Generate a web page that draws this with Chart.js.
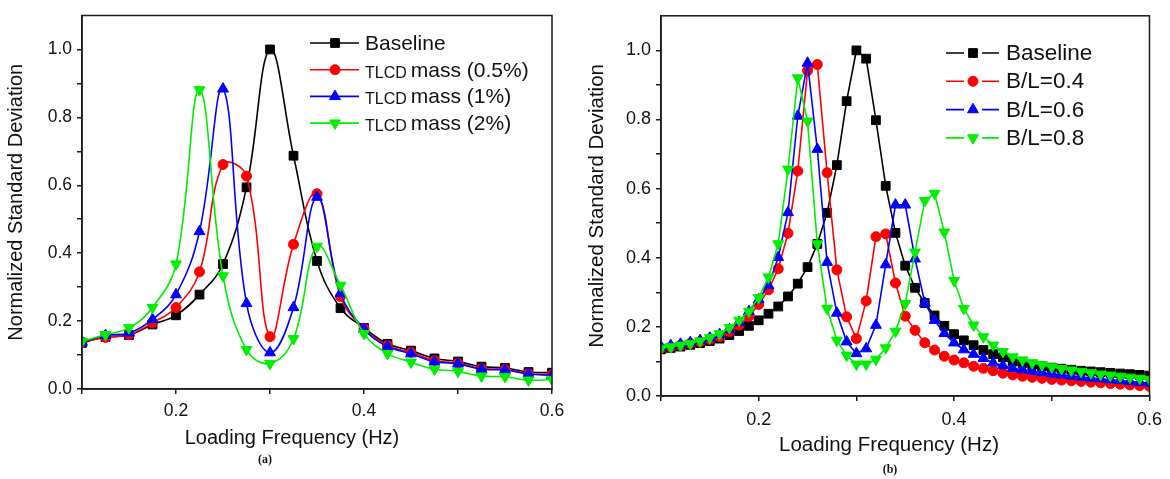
<!DOCTYPE html>
<html>
<head>
<meta charset="utf-8">
<script src="https://cdn.jsdelivr.net/npm/chart.js@4"></script>
<style>
  html, body { margin: 0; padding: 0; background: #fff; }
  body { width: 1170px; height: 479px; position: relative; overflow: hidden; }
  .panel { position: absolute; top: 0; width: 585px; height: 479px; }
  #panel-a { left: 0; }
  #panel-b { left: 585px; }
</style>
</head>
<body>
<div class="panel" id="panel-a"><canvas id="chart-a" width="585" height="479"></canvas></div>
<div class="panel" id="panel-b"><canvas id="chart-b" width="585" height="479"></canvas></div>
<script>
// ========== Data (a) : TLCD mass
const freqA = [0.1, 0.125, 0.15, 0.175, 0.2, 0.225, 0.25, 0.275, 0.3, 0.325, 0.35,
               0.375, 0.4, 0.425, 0.45, 0.475, 0.5, 0.525, 0.55, 0.575, 0.6];
const baselineA = [0.136, 0.153, 0.159, 0.190, 0.217, 0.278, 0.368, 0.594, 1.000, 0.687, 0.377,
                   0.238, 0.180, 0.133, 0.113, 0.090, 0.081, 0.066, 0.062, 0.050, 0.048];
const mass05A = [0.138, 0.152, 0.160, 0.195, 0.240, 0.345, 0.661, 0.627, 0.154, 0.426, 0.575,
                 0.272, 0.178, 0.128, 0.108, 0.084, 0.076, 0.060, 0.058, 0.045, 0.042];
const mass1A = [0.138, 0.158, 0.165, 0.205, 0.278, 0.464, 0.884, 0.252, 0.107, 0.240, 0.565,
                0.282, 0.176, 0.125, 0.104, 0.080, 0.074, 0.058, 0.056, 0.044, 0.040];
const mass2A = [0.140, 0.160, 0.180, 0.240, 0.368, 0.881, 0.333, 0.116, 0.075, 0.148, 0.420,
                0.305, 0.163, 0.104, 0.079, 0.058, 0.052, 0.038, 0.036, 0.026, 0.028];

// ========== Data (b) : B/L ratio
const freqB = [0.10, 0.11, 0.12, 0.13, 0.14, 0.15, 0.16, 0.17, 0.18, 0.19,
               0.20, 0.21, 0.22, 0.23, 0.24, 0.25, 0.26, 0.27, 0.28, 0.29,
               0.30, 0.31, 0.32, 0.33, 0.34, 0.35, 0.36, 0.37, 0.38, 0.39,
               0.40, 0.41, 0.42, 0.43, 0.44, 0.45, 0.46, 0.47, 0.48, 0.49,
               0.50, 0.51, 0.52, 0.53, 0.54, 0.55, 0.56, 0.57, 0.58, 0.59, 0.60];
const baselineB = [0.135, 0.139, 0.143, 0.148, 0.153, 0.159, 0.166, 0.176, 0.188, 0.203,
                   0.219, 0.238, 0.259, 0.288, 0.325, 0.373, 0.440, 0.530, 0.668, 0.853,
                   1.000, 0.976, 0.798, 0.608, 0.472, 0.377, 0.313, 0.269, 0.233, 0.203,
                   0.179, 0.161, 0.147, 0.133, 0.121, 0.112, 0.100, 0.095, 0.090, 0.086,
                   0.082, 0.079, 0.076, 0.073, 0.071, 0.069, 0.067, 0.065, 0.063, 0.061, 0.059];
const bl04B = [0.138, 0.142, 0.147, 0.152, 0.157, 0.164, 0.172, 0.186, 0.205, 0.230,
               0.265, 0.307, 0.368, 0.471, 0.651, 0.941, 0.959, 0.646, 0.365, 0.229,
               0.166, 0.275, 0.461, 0.469, 0.327, 0.231, 0.190, 0.154, 0.133, 0.115,
               0.104, 0.096, 0.086, 0.080, 0.073, 0.066, 0.061, 0.057, 0.054, 0.051,
               0.048, 0.046, 0.044, 0.042, 0.040, 0.038, 0.036, 0.034, 0.032, 0.030, 0.028];
const bl06B = [0.142, 0.146, 0.150, 0.155, 0.161, 0.168, 0.178, 0.192, 0.213, 0.245,
               0.279, 0.320, 0.401, 0.531, 0.810, 0.963, 0.714, 0.387, 0.240, 0.157,
               0.123, 0.137, 0.205, 0.380, 0.553, 0.553, 0.397, 0.269, 0.219, 0.181,
               0.154, 0.134, 0.121, 0.109, 0.096, 0.088, 0.080, 0.076, 0.072, 0.068,
               0.064, 0.061, 0.058, 0.055, 0.052, 0.050, 0.047, 0.045, 0.042, 0.040, 0.038];
const bl08B = [0.138, 0.142, 0.147, 0.152, 0.159, 0.169, 0.180, 0.198, 0.219, 0.245,
               0.284, 0.344, 0.440, 0.656, 0.920, 0.795, 0.440, 0.253, 0.161, 0.118,
               0.092, 0.092, 0.106, 0.139, 0.187, 0.267, 0.416, 0.565, 0.586, 0.474,
               0.334, 0.253, 0.205, 0.171, 0.147, 0.128, 0.113, 0.104, 0.096, 0.090,
               0.084, 0.079, 0.075, 0.071, 0.067, 0.063, 0.060, 0.057, 0.054, 0.051, 0.048];

const labelsA = ['Baseline', 'TLCD mass (0.5%)', 'TLCD mass (1%)', 'TLCD mass (2%)'];
const labelsB = ['Baseline', 'B/L=0.4', 'B/L=0.6', 'B/L=0.8'];

// ========== Colors
let blackColor = '#000000';
let redColor = '#ff0000';
let blueColor = '#0000ff';
let greenColor = '#00ee00';

Chart.defaults.font.family = '"Liberation Sans", Arial, sans-serif';
Chart.defaults.color = '#111';

function pts(xs, ys) {
    return xs.map((x, i) => ({ x: x, y: ys[i] }));
}

function makeSet(label, xs, ys, color, style, rotation, radius, tension, order) {
    return {
        label: label,
        data: pts(xs, ys),
        borderColor: color,
        backgroundColor: color,
        pointBackgroundColor: color,
        pointBorderColor: color,
        pointStyle: style,
        pointRotation: rotation,
        pointRadius: radius,
        pointBorderWidth: 1,
        borderWidth: 1.6,
        tension: tension,
        order: order
    };
}

// frame, x title, panel tag and legend
const panelDecor = {
    id: 'panelDecor',
    afterDatasetsDraw(chart, args, o) {
        const ctx = chart.ctx;
        const a = chart.chartArea;
        ctx.save();
        ctx.strokeStyle = '#1a1a1a';
        ctx.lineWidth = 1.5;
        ctx.strokeRect(a.left, a.top, a.right - a.left, a.bottom - a.top);

        ctx.fillStyle = '#111';
        ctx.textAlign = 'center';
        ctx.textBaseline = 'middle';
        ctx.font = o.titleSize + 'px "Liberation Sans", Arial';
        ctx.fillText(o.xTitle, o.xTitleX, o.xTitleY);
        ctx.font = 'bold 12px "Liberation Serif", "Times New Roman", serif';
        ctx.fillText(o.tag, o.tagX, o.tagY);

        // legend
        chart.data.datasets.forEach((ds, i) => {
            const y = o.legY + i * o.legDy;
            ctx.strokeStyle = ds.borderColor;
            ctx.fillStyle = ds.borderColor;
            ctx.lineWidth = ds.borderWidth;
            ctx.beginPath();
            if (o.legGap) {
                ctx.moveTo(o.legX0, y); ctx.lineTo(o.legMark - 9, y);
                ctx.moveTo(o.legMark + 9, y); ctx.lineTo(o.legX1, y);
            } else {
                ctx.moveTo(o.legX0, y); ctx.lineTo(o.legX1, y);
            }
            ctx.stroke();
            ctx.lineWidth = 1;
            Chart.helpers.drawPoint(ctx, {
                pointStyle: ds.pointStyle,
                rotation: ds.pointRotation,
                radius: ds.pointRadius,
                borderWidth: 1
            }, o.legMark, y);

            ctx.fillStyle = '#111';
            ctx.textAlign = 'left';
            ctx.textBaseline = 'alphabetic';
            let x = o.legText;
            let text = ds.label;
            if (text.startsWith('TLCD ')) {
                ctx.font = o.legSmall + 'px "Liberation Sans", Arial';
                ctx.fillText('TLCD', x, y + 8);
                x += ctx.measureText('TLCD').width + 4;
                text = text.slice(5);
            }
            ctx.font = o.legSize + 'px "Liberation Sans", Arial';
            ctx.fillText(text, x, y + 7);
        });
        ctx.restore();
    }
};

function axisColor(ctx, max) {
    return ctx.tick && ctx.tick.value > max + 1e-6 ? 'rgba(0,0,0,0)' : '#1a1a1a';
}

function buildOptions(p) {
    return {
        responsive: false,
        animation: false,
        devicePixelRatio: 1,
        layout: { padding: { left: 0, right: p.padRight, top: p.padTop, bottom: 0 } },
        plugins: {
            legend: { display: false },
            tooltip: { enabled: false },
            panelDecor: p.decor
        },
        scales: {
            x: {
                type: 'linear',
                min: 0.1,
                max: 0.6,
                afterFit: (s) => { s.height = p.xHeight; },
                border: { display: true, color: '#1a1a1a', width: 1.5 },
                grid: { drawOnChartArea: false, drawTicks: true, tickLength: 5, color: '#1a1a1a', lineWidth: 1.5 },
                ticks: {
                    stepSize: 0.1,
                    autoSkip: false,
                    maxRotation: 0,
                    padding: p.xPad,
                    color: '#111',
                    font: { size: p.tickSize },
                    callback: (v) => {
                        const t = Math.round(v * 10);
                        return (t % 2 === 0 && t > 1) ? (t / 10).toFixed(1) : '';
                    }
                }
            },
            y: {
                min: 0,
                max: 1.1,
                afterFit: (s) => { s.width = p.yWidth; },
                border: { display: true, color: '#1a1a1a', width: 1.5 },
                grid: {
                    drawOnChartArea: false, drawTicks: true, tickLength: 5, lineWidth: 1.5,
                    color: (c) => axisColor(c, 1.0)
                },
                title: {
                    display: true,
                    text: 'Normalized Standard Deviation',
                    color: '#111',
                    font: { size: p.titleSize },
                    padding: { top: p.yTitlePad, bottom: 0 }
                },
                ticks: {
                    stepSize: 0.1,
                    autoSkip: false,
                    padding: 5,
                    color: '#111',
                    font: { size: p.tickSize },
                    callback: (v) => {
                        const t = Math.round(v * 10);
                        return (t % 2 === 0 && t <= 10) ? (t / 10).toFixed(1) : '';
                    }
                }
            }
        }
    };
}

// @ ========== (a) TLCD mass
function renderChartA() {
    const setsA = [
        makeSet(labelsA[0], freqA, baselineA, blackColor, 'rect', 0, 6.2, 0.4, 4),
        makeSet(labelsA[1], freqA, mass05A, redColor, 'circle', 0, 5, 0.4, 3),
        makeSet(labelsA[2], freqA, mass1A, blueColor, 'triangle', 0, 6.3, 0.4, 2),
        makeSet(labelsA[3], freqA, mass2A, greenColor, 'triangle', 180, 6.3, 0.4, 1)
    ];
    return new Chart(document.getElementById('chart-a'), {
        type: 'line',
        data: { datasets: setsA },
        options: buildOptions({
            padRight: 33, padTop: 11, xHeight: 90, yWidth: 82,
            xPad: 7, tickSize: 17.5, titleSize: 20, yTitlePad: 4,
            decor: {
                xTitle: 'Loading Frequency (Hz)', xTitleX: 292, xTitleY: 438, titleSize: 20,
                tag: '(a)', tagX: 265, tagY: 460,
                legX0: 310, legX1: 359, legMark: 335, legText: 365,
                legY: 43, legDy: 26.7, legSize: 21, legSmall: 16, legGap: false
            }
        }),
        plugins: [panelDecor]
    });
}

// @ ========== (b) B/L ratio
function renderChartB() {
    const setsB = [
        makeSet(labelsB[0], freqB, baselineB, blackColor, 'rect', 0, 6.2, 0, 4),
        makeSet(labelsB[1], freqB, bl04B, redColor, 'circle', 0, 5, 0, 3),
        makeSet(labelsB[2], freqB, bl06B, blueColor, 'triangle', 0, 6.3, 0, 2),
        makeSet(labelsB[3], freqB, bl08B, greenColor, 'triangle', 180, 6.3, 0, 1)
    ];
    return new Chart(document.getElementById('chart-b'), {
        type: 'line',
        data: { datasets: setsB },
        options: buildOptions({
            padRight: 18, padTop: 14, xHeight: 83, yWidth: 76,
            xPad: 8, tickSize: 18, titleSize: 20.5, yTitlePad: 0,
            decor: {
                xTitle: 'Loading Frequency (Hz)', xTitleX: 304, xTitleY: 445, titleSize: 20.5,
                tag: '(b)', tagX: 305, tagY: 470,
                legX0: 361, legX1: 414, legMark: 388, legText: 421,
                legY: 53, legDy: 28.3, legSize: 22.5, legSmall: 17, legGap: true
            }
        }),
        plugins: [panelDecor]
    });
}

renderChartA();
renderChartB();
</script>
</body>
</html>
